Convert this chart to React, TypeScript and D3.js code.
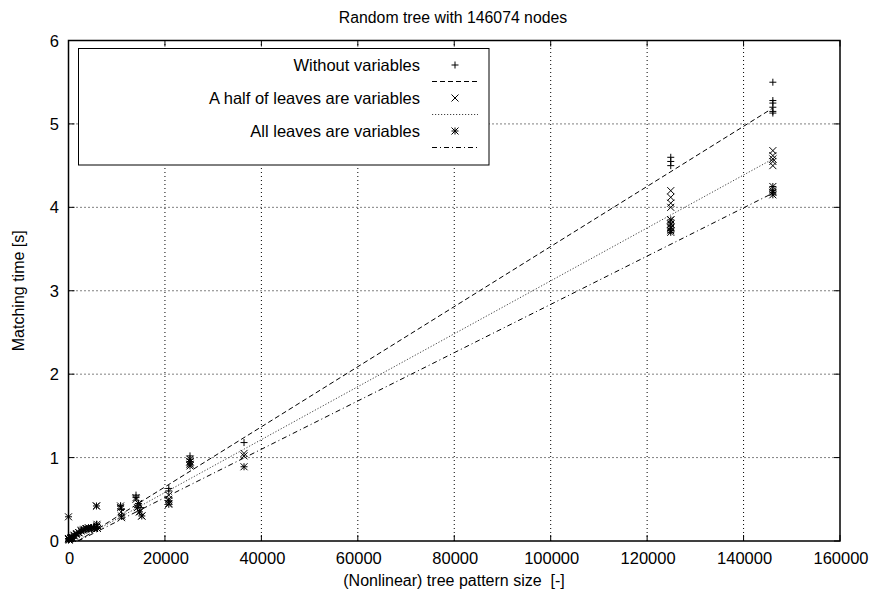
import React from "react";
import * as d3 from "d3";

const W = 873;
const H = 599;

const title = "Random tree with 146074 nodes";
const xLabel = "(Nonlinear) tree pattern size  [-]";
const yLabel = "Matching time [s]";
const xTicks = [0, 20000, 40000, 60000, 80000, 100000, 120000, 140000, 160000];
const yTicks = [0, 1, 2, 3, 4, 5, 6];

const seriesNames = ["Without variables", "A half of leaves are variables", "All leaves are variables"];

const plusPoints: [number, number][] = [
  [0, 0.01], [100, 0.02], [300, 0.03], [600, 0.04], [1000, 0.05], [1500, 0.07], [2000, 0.09],
  [2500, 0.11], [3000, 0.13], [3500, 0.14], [4000, 0.15], [4600, 0.16], [5200, 0.17],
  [5800, 0.2], [5900, 0.17],
  [10800, 0.42], [11000, 0.38],
  [14000, 0.55], [14500, 0.45], [15000, 0.4],
  [20800, 0.63], [20800, 0.6],
  [25200, 1.02], [25200, 0.98], [25200, 0.95],
  [36400, 1.18],
  [124900, 4.6], [124900, 4.55], [124900, 4.5],
  [146074, 5.5], [146074, 5.28], [146074, 5.25], [146074, 5.2], [146074, 5.15], [146074, 5.13],
];

const crossPoints: [number, number][] = [
  [0, 0.02], [150, 0.01], [400, 0.03], [700, 0.05], [1100, 0.06], [1600, 0.08], [2100, 0.1],
  [2600, 0.12], [3100, 0.13], [3600, 0.15], [4100, 0.16], [4700, 0.15], [5300, 0.16],
  [5800, 0.42], [5900, 0.18],
  [10800, 0.4], [10900, 0.35], [11000, 0.28],
  [14000, 0.5], [14500, 0.45], [14800, 0.35], [15200, 0.3],
  [20800, 0.55], [20800, 0.5], [20800, 0.45],
  [25200, 0.98], [25200, 0.95], [25200, 0.92],
  [36400, 1.05], [36400, 1.02],
  [124900, 4.2], [124900, 4.12], [124900, 4.05], [124900, 4.0], [124900, 3.85], [124900, 3.8], [124900, 3.76],
  [146074, 4.68], [146074, 4.62], [146074, 4.58], [146074, 4.55], [146074, 4.5],
];

const starPoints: [number, number][] = [
  [0, 0.29], [0, 0.03], [200, 0.02], [500, 0.04], [800, 0.03], [1200, 0.07], [1700, 0.09],
  [2200, 0.1], [2700, 0.13], [3200, 0.14], [3700, 0.15], [4200, 0.14], [4800, 0.16], [5400, 0.15],
  [5800, 0.42], [5900, 0.2], [6000, 0.15],
  [10800, 0.42], [11000, 0.3],
  [14000, 0.52], [14300, 0.4], [14700, 0.35], [15200, 0.3],
  [20800, 0.48], [20800, 0.44],
  [25200, 0.95], [25200, 0.9],
  [36400, 0.89],
  [124900, 3.85], [124900, 3.8], [124900, 3.75], [124900, 3.72], [124900, 3.7],
  [146074, 4.25], [146074, 4.2], [146074, 4.18], [146074, 4.15],
];

const fitWithout: [number, number][] = [[2000, 0.0], [146074, 5.19]];
const fitHalf: [number, number][] = [[2000, 0.01], [146074, 4.58]];
const fitAll: [number, number][] = [[2000, 0.0], [146074, 4.17]];

const margin = { left: 68.5, right: W - 840, top: 40.5, bottom: H - 541 };

const x = d3.scaleLinear().domain([0, 160000]).range([margin.left, W - margin.right]);
const y = d3.scaleLinear().domain([0, 6]).range([H - margin.bottom, margin.top]);

const FONT = "'Liberation Sans', Arial, Helvetica, sans-serif";
const FS = 16.5;
const MS = 3.5;

function Marker({ kind, cx, cy }: { kind: number; cx: number; cy: number }) {
  const plus = `M${cx - MS},${cy}H${cx + MS}M${cx},${cy - MS}V${cy + MS}`;
  const cross = `M${cx - MS},${cy - MS}L${cx + MS},${cy + MS}M${cx - MS},${cy + MS}L${cx + MS},${cy - MS}`;
  const d = kind === 0 ? plus : kind === 1 ? cross : plus + cross;
  return <path d={d} stroke="#000" strokeWidth={1} fill="none" />;
}

const dashes = ["5,3", "1.2,1.8", "5,3,1,3"];
const lineColors = ["#000", "#444", "#000"];

export default function App() {
  const line = d3.line<[number, number]>().x((d) => x(d[0])).y((d) => y(d[1]));
  const series = [plusPoints, crossPoints, starPoints];
  const fits = [fitWithout, fitHalf, fitAll];
  const x0 = x(0), x1 = x(160000), y0 = y(0), y1 = y(6);

  const legend = { left: 78.5, right: 489, top: 48.5, bottom: 165 };
  const rowY = (i: number) => 65 + i * 33;

  return (
    <svg width={W} height={H} style={{ position: "absolute", left: 0, top: 0, background: "#fff" }}>
      <rect x={0} y={0} width={W} height={H} fill="#fff" />
      <defs>
        <clipPath id="plotclip">
          <rect x={x0} y={y1} width={x1 - x0} height={y0 - y1} />
        </clipPath>
      </defs>
      {xTicks.slice(1, -1).map((t) => (
        <line key={"gx" + t} x1={x(t)} x2={x(t)} y1={y0} y2={y1} stroke="#000" strokeWidth={1} strokeDasharray="1,3" />
      ))}
      {yTicks.slice(1, -1).map((t) => (
        <line key={"gy" + t} x1={x0} x2={x1} y1={y(t)} y2={y(t)} stroke="#000" strokeWidth={1} strokeDasharray="1,3" />
      ))}
      <g clipPath="url(#plotclip)">
        {fits.map((f, i) => (
          <path key={"f" + i} d={line(f) || ""} fill="none" stroke={lineColors[i]} strokeWidth={1} strokeDasharray={dashes[i]} />
        ))}
      </g>
      {series.map((s, i) => (
        <g key={"s" + i}>
          {s.map((p, j) => (
            <Marker key={j} kind={i} cx={x(p[0])} cy={y(p[1])} />
          ))}
        </g>
      ))}
      <rect x={legend.left} y={legend.top} width={legend.right - legend.left} height={legend.bottom - legend.top} fill="#fff" stroke="#000" strokeWidth={1} />
      {seriesNames.map((n, i) => (
        <g key={"l" + i}>
          <text x={420} y={rowY(i) + 6} textAnchor="end" fontFamily={FONT} fontSize={FS} fill="#000">{n}</text>
          <Marker kind={i} cx={455} cy={rowY(i)} />
          <line x1={432} x2={478} y1={rowY(i) + 16.5} y2={rowY(i) + 16.5} stroke={lineColors[i]} strokeWidth={1} strokeDasharray={dashes[i]} />
        </g>
      ))}
      {xTicks.map((t) => (
        <g key={"tx" + t}>
          <line x1={x(t)} x2={x(t)} y1={y0} y2={y0 - 6} stroke="#000" />
          <line x1={x(t)} x2={x(t)} y1={y1} y2={y1 + 6} stroke="#000" />
          <text x={x(t) + 1} y={563.5} textAnchor="middle" fontFamily={FONT} fontSize={FS} fill="#000">{t}</text>
        </g>
      ))}
      {yTicks.map((t) => (
        <g key={"ty" + t}>
          <line x1={x0} x2={x0 + 6} y1={y(t)} y2={y(t)} stroke="#000" />
          <line x1={x1} x2={x1 - 6} y1={y(t)} y2={y(t)} stroke="#000" />
          <text x={59} y={y(t) + 6} textAnchor="end" fontFamily={FONT} fontSize={FS} fill="#000">{t}</text>
        </g>
      ))}
      <rect x={x0} y={y1} width={x1 - x0} height={y0 - y1} fill="none" stroke="#000" strokeWidth={1.5} />
      <text x={453} y={23} textAnchor="middle" fontFamily={FONT} fontSize={15.8} fill="#000">{title}</text>
      <text x={454} y={586} textAnchor="middle" fontFamily={FONT} fontSize={16} fill="#000" style={{ whiteSpace: "pre" }}>{xLabel}</text>
      <text transform={`translate(24,${(y0 + y1) / 2}) rotate(-90)`} textAnchor="middle" fontFamily={FONT} fontSize={16} fill="#000">{yLabel}</text>
    </svg>
  );
}
